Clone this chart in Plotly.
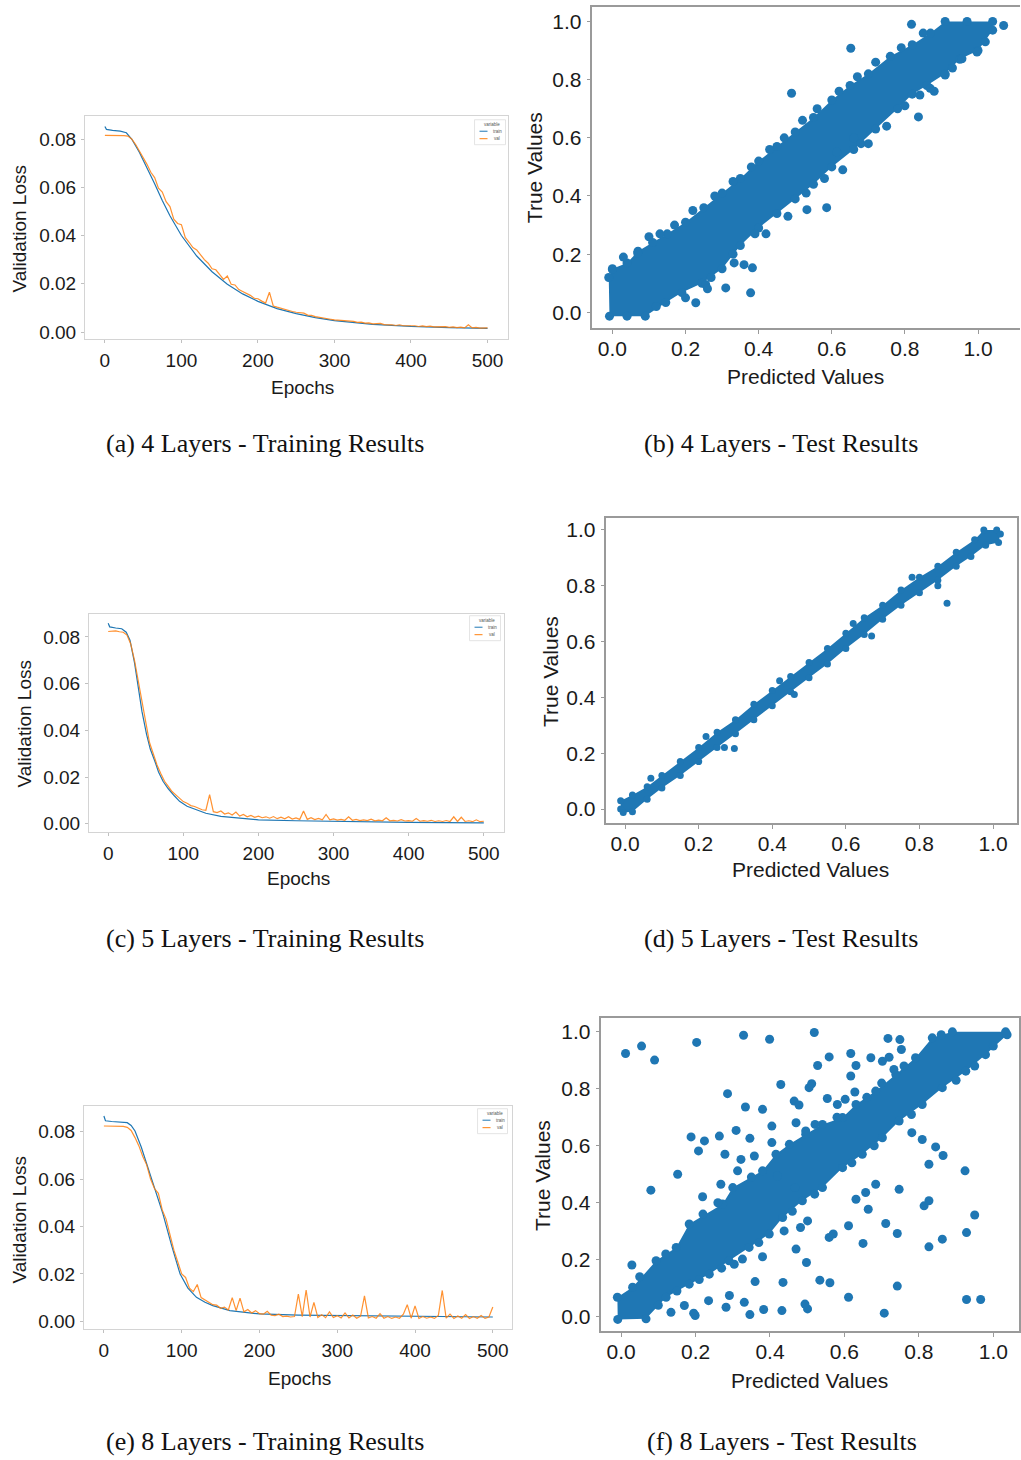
import plotly.graph_objects as go

# ======================= DATA =======================
# validation-loss samples every 5 epochs
val_epochs = list(range(0, 501, 5))

# (a) 4 layers
a_train_epochs = [0, 2, 10, 20, 28, 35, 45, 55, 65, 75, 85, 100, 120, 140, 160, 180, 200, 225, 250, 275,
                  300, 350, 400, 450, 500]
a_train_loss = [0.0852, 0.0840, 0.0836, 0.0833, 0.0826, 0.0800, 0.0745, 0.0683, 0.0615, 0.0545,
                0.0482, 0.0400, 0.0315, 0.0250, 0.0198, 0.0158, 0.0127, 0.0097, 0.0076, 0.0060,
                0.0047, 0.0032, 0.0023, 0.0018, 0.0015]
a_val_loss = [
    .0815, .0815, .0816, .0815, .0816, .0814, .0812, .0800, .0778, .0752,
    .0722, .0695, .0662, .0640, .0596, .0580, .0540, .0520, .0468, .0450,
    .0445, .0392, .0372, .0350, .0340, .0318, .0300, .0285, .0262, .0258,
    .0240, .0218, .0232, .0198, .0195, .0176, .0168, .0160, .0152, .0140,
    .0138, .0128, .0120, .0165, .0108, .0103, .0098, .0096, .0089, .0085,
    .0082, .0079, .0078, .0070, .0069, .0064, .0062, .0058, .0057, .0053,
    .0050, .0049, .0046, .0046, .0043, .0044, .0040, .0041, .0037, .0038,
    .0034, .0034, .0036, .0031, .0032, .0030, .0027, .0030, .0026, .0027,
    .0025, .0026, .0023, .0025, .0022, .0024, .0021, .0022, .0020, .0022,
    .0019, .0021, .0018, .0020, .0017, .0030, .0017, .0019, .0016, .0018,
    .0017]

# (c) 5 layers
c_train_epochs = [0, 2, 10, 18, 24, 29, 35, 40, 45, 51, 56, 62, 67, 73, 80, 88, 95, 105, 117, 130,
                  150, 175, 200, 250, 300, 400, 500]
c_train_loss = [0.0858, 0.0843, 0.0838, 0.0835, 0.0820, 0.0786, 0.0690, 0.0585, 0.0480, 0.0384,
                0.0320, 0.0269, 0.0222, 0.0182, 0.0150, 0.0120, 0.0096, 0.0075, 0.0060, 0.0045,
                0.0032, 0.0023, 0.0017, 0.0013, 0.0010, 0.0006, 0.0004]
c_val_loss = [
    .0823, .0823, .0826, .0822, .0820, .0808, .0770, .0700, .0610, .0512,
    .0420, .0348, .0300, .0252, .0215, .0182, .0160, .0138, .0124, .0110,
    .0095, .0088, .0078, .0074, .0066, .0060, .0058, .0125, .0052, .0048,
    .0055, .0042, .0047, .0038, .0050, .0033, .0040, .0030, .0036, .0028,
    .0033, .0026, .0030, .0024, .0031, .0022, .0028, .0021, .0030, .0020,
    .0025, .0019, .0055, .0019, .0026, .0018, .0023, .0017, .0040, .0017,
    .0021, .0016, .0019, .0015, .0030, .0015, .0019, .0014, .0017, .0014,
    .0020, .0013, .0016, .0013, .0026, .0013, .0015, .0012, .0018, .0012,
    .0014, .0011, .0023, .0011, .0014, .0011, .0015, .0010, .0013, .0010,
    .0014, .0010, .0030, .0010, .0028, .0010, .0013, .0009, .0017, .0009,
    .0011]

# (e) 8 layers
e_train_epochs = [0, 2, 10, 20, 30, 35, 40, 48, 55, 65, 76, 87, 98, 108, 119, 130, 140, 162, 200, 250,
                  300, 400, 500]
e_train_loss = [0.0866, 0.0846, 0.0843, 0.0842, 0.0838, 0.0826, 0.0803, 0.0735, 0.0662, 0.0560,
                0.0452, 0.0320, 0.0199, 0.0140, 0.0101, 0.0080, 0.0066, 0.0045, 0.0031, 0.0026,
                0.0024, 0.0021, 0.0018]
e_val_loss = [
    .0824, .0824, .0824, .0823, .0824, .0822, .0818, .0805, .0775, .0740,
    .0695, .0660, .0600, .0560, .0540, .0470, .0430, .0360, .0300, .0250,
    .0200, .0185, .0140, .0125, .0155, .0100, .0090, .0082, .0070, .0068,
    .0055, .0060, .0048, .0100, .0045, .0098, .0040, .0050, .0035, .0045,
    .0032, .0030, .0042, .0026, .0024, .0030, .0020, .0022, .0018, .0020,
    .0115, .0020, .0132, .0018, .0080, .0016, .0028, .0015, .0040, .0016,
    .0024, .0014, .0035, .0014, .0026, .0013, .0022, .0107, .0014, .0020,
    .0013, .0032, .0013, .0020, .0012, .0018, .0013, .0030, .0070, .0013,
    .0065, .0012, .0020, .0013, .0018, .0012, .0025, .0130, .0013, .0030,
    .0012, .0022, .0013, .0028, .0012, .0020, .0013, .0024, .0012, .0018,
    .0060]

# (b) 4 layers test: dense region outline (predicted, true) and isolated points
b_core = [(-0.01, 0.12), (0.0, 0.15), (0.04, 0.17), (0.07, 0.21), (0.11, 0.24), (0.15, 0.27),
          (0.20, 0.31), (0.25, 0.36), (0.30, 0.41), (0.35, 0.46), (0.40, 0.52), (0.45, 0.57),
          (0.50, 0.62), (0.55, 0.67), (0.60, 0.73), (0.65, 0.78), (0.70, 0.82), (0.76, 0.88),
          (0.82, 0.92), (0.87, 0.96), (0.91, 1.0), (0.97, 1.0), (1.04, 1.0), (1.04, 0.97),
          (1.0, 0.90), (0.95, 0.87), (0.91, 0.82), (0.86, 0.78), (0.82, 0.75), (0.78, 0.70),
          (0.72, 0.63), (0.66, 0.56), (0.60, 0.50), (0.55, 0.44), (0.50, 0.39), (0.45, 0.34),
          (0.40, 0.29), (0.35, 0.23), (0.30, 0.15), (0.245, 0.10), (0.19, 0.068), (0.146, 0.034),
          (0.09, -0.013), (0.04, -0.013), (-0.008, -0.013)]
b_points = [(0.49, 0.753), (0.652, 0.908), (0.818, 0.99), (1.07, 0.986), (0.997, 0.895),
            (0.956, 0.872), (0.91, 0.816), (0.869, 0.77), (0.841, 0.747), (0.837, 0.672),
            (0.069, 0.204), (0.0, 0.147), (0.228, 0.033), (0.255, 0.096), (0.26, 0.081),
            (0.31, 0.084), (0.378, 0.067), (0.383, 0.153), (0.36, 0.164), (0.333, 0.17),
            (0.532, 0.353), (0.586, 0.36), (0.614, 0.551), (0.66, 0.60), (0.10, 0.26),
            (0.17, 0.30), (0.28, 0.40), (0.38, 0.50), (0.47, 0.60), (0.56, 0.70), (0.72, 0.86),
            (0.79, 0.91), (0.42, 0.27), (0.48, 0.33), (0.63, 0.49), (0.70, 0.58), (0.75, 0.64),
            (0.88, 0.76), (0.03, 0.19), (0.13, 0.27), (0.22, 0.35), (0.33, 0.45), (0.43, 0.56),
            (0.52, 0.66), (0.62, 0.76), (0.67, 0.81), (0.85, 0.96), (0.12, 0.02), (0.20, 0.05),
            (0.27, 0.12), (0.33, 0.20), (0.39, 0.27), (0.53, 0.41), (0.58, 0.46), (0.68, 0.58),
            (0.80, 0.71), (0.93, 0.84), (1.02, 0.93)]

# (d) 5 layers test
d_core = [(-0.012, 0.0), (-0.012, 0.03), (0.02, 0.05), (0.06, 0.08), (0.10, 0.12), (0.15, 0.17),
          (0.20, 0.22), (0.25, 0.275), (0.30, 0.32), (0.35, 0.375), (0.40, 0.425), (0.45, 0.475),
          (0.50, 0.525), (0.55, 0.575), (0.60, 0.63), (0.65, 0.685), (0.70, 0.73), (0.75, 0.785),
          (0.80, 0.83), (0.85, 0.87), (0.90, 0.92), (0.95, 0.965), (0.975, 1.0), (1.01, 1.0),
          (1.02, 0.985), (1.015, 0.955), (0.98, 0.945), (0.94, 0.905), (0.90, 0.87), (0.85, 0.82),
          (0.80, 0.775), (0.75, 0.73), (0.70, 0.68), (0.65, 0.625), (0.60, 0.575), (0.55, 0.52),
          (0.50, 0.47), (0.45, 0.42), (0.40, 0.37), (0.35, 0.32), (0.30, 0.27), (0.25, 0.22),
          (0.20, 0.17), (0.15, 0.12), (0.10, 0.075), (0.06, 0.035), (0.02, -0.01), (-0.005, -0.012)]
d_points = [(0.875, 0.737), (0.297, 0.217), (0.07, 0.11), (0.22, 0.26), (0.42, 0.46), (0.62, 0.665),
            (0.78, 0.83), (0.27, 0.22), (0.46, 0.41), (0.67, 0.62), (0.85, 0.80)]

# (f) 8 layers test
f_core = [(-0.01, 0.068), (0.031, 0.103), (0.094, 0.196), (0.148, 0.243), (0.183, 0.325),
          (0.273, 0.395), (0.30, 0.453), (0.38, 0.512), (0.416, 0.57), (0.452, 0.605),
          (0.496, 0.64), (0.541, 0.675), (0.595, 0.699), (0.631, 0.745), (0.684, 0.792),
          (0.738, 0.85), (0.791, 0.909), (0.836, 0.979), (0.89, 1.0), (1.033, 1.0),
          (1.037, 0.99), (0.979, 0.92), (0.926, 0.862), (0.863, 0.804), (0.809, 0.745),
          (0.747, 0.687), (0.702, 0.628), (0.648, 0.57), (0.595, 0.523), (0.541, 0.453),
          (0.487, 0.407), (0.434, 0.348), (0.398, 0.29), (0.344, 0.243), (0.29, 0.196),
          (0.237, 0.149), (0.183, 0.114), (0.121, 0.068), (0.067, -0.008), (-0.009, -0.01)]
f_points = [
    (0.012, 0.924), (0.055, 0.950), (0.090, 0.901), (0.203, 0.963), (0.329, 0.988), (0.399, 0.974),
    (0.519, 0.998), (0.717, 0.977), (0.749, 0.973), (0.753, 0.938), (0.559, 0.912), (0.528, 0.882),
    (0.617, 0.924), (0.631, 0.882), (0.617, 0.845), (0.671, 0.909), (0.702, 0.897), (0.720, 0.911),
    (0.733, 0.868), (0.429, 0.815), (0.505, 0.804), (0.512, 0.818), (0.628, 0.789), (0.286, 0.783),
    (0.334, 0.736), (0.380, 0.728), (0.465, 0.757), (0.478, 0.743), (0.554, 0.766), (0.581, 0.745),
    (0.602, 0.763), (0.405, 0.669), (0.470, 0.681), (0.496, 0.652), (0.521, 0.675), (0.309, 0.654),
    (0.264, 0.634), (0.188, 0.631), (0.224, 0.617), (0.208, 0.582), (0.279, 0.570), (0.346, 0.626),
    (0.322, 0.552), (0.313, 0.512), (0.152, 0.500), (0.080, 0.444), (0.219, 0.421), (0.268, 0.465),
    (0.358, 0.564), (0.405, 0.611), (0.924, 0.512), (0.827, 0.535), (0.845, 0.596), (0.865, 0.566),
    (0.809, 0.622), (0.781, 0.646), (0.747, 0.447), (0.814, 0.389), (0.827, 0.407), (0.950, 0.357),
    (0.928, 0.295), (0.863, 0.272), (0.827, 0.245), (0.742, 0.292), (0.711, 0.327), (0.650, 0.257),
    (0.611, 0.319), (0.664, 0.377), (0.657, 0.436), (0.684, 0.465), (0.631, 0.412), (0.559, 0.278),
    (0.570, 0.290), (0.501, 0.336), (0.482, 0.313), (0.438, 0.301), (0.470, 0.237), (0.498, 0.190),
    (0.742, 0.107), (0.611, 0.068), (0.534, 0.128), (0.561, 0.119), (0.435, 0.120), (0.707, 0.012),
    (0.928, 0.060), (0.966, 0.060), (0.501, 0.027), (0.494, 0.044), (0.432, 0.021), (0.383, 0.025),
    (0.346, 0.007), (0.331, 0.050), (0.291, 0.074), (0.282, 0.033), (0.235, 0.056), (0.199, 0.004),
    (0.195, 0.012), (0.134, 0.015), (0.170, 0.039), (0.029, 0.181), (0.304, 0.184), (0.360, 0.123),
    (0.326, 0.202), (0.380, 0.210), (0.420, 0.494), (0.467, 0.453), (0.05, 0.14), (0.12, 0.22),
    (0.22, 0.36), (0.26, 0.40), (0.35, 0.49), (0.58, 0.70), (0.66, 0.77), (0.70, 0.82), (0.76, 0.88),
    (0.86, 0.99), (0.10, 0.04), (0.15, 0.09), (0.21, 0.13), (0.27, 0.17), (0.37, 0.26), (0.46, 0.37),
    (0.52, 0.43), (0.62, 0.54), (0.68, 0.60), (0.78, 0.71), (0.90, 0.83), (0.95, 0.88), (1.0, 0.95)]

loss_ticks = [0.0, 0.02, 0.04, 0.06, 0.08]
loss_tick_text = ['0.00', '0.02', '0.04', '0.06', '0.08']
epoch_ticks = [0, 100, 200, 300, 400, 500]
unit_ticks = [0.0, 0.2, 0.4, 0.6, 0.8, 1.0]
unit_tick_text = ['0.0', '0.2', '0.4', '0.6', '0.8', '1.0']

captions = ['(a) 4 Layers - Training Results', '(b) 4 Layers - Test Results',
            '(c) 5 Layers - Training Results', '(d) 5 Layers - Test Results',
            '(e) 8 Layers - Training Results', '(f) 8 Layers - Test Results']

# ======================= LAYOUT HELPERS =======================
W, H = 1021, 1460
BLUE = '#1f77b4'
ORANGE = '#ff7f0e'
SANS = 'Liberation Sans, Arial, sans-serif'
SERIF = 'Liberation Serif, Times New Roman, serif'


def px(x):
    return x / W


def py(y):
    return 1 - y / H


def rng(lo_px, hi_px, v0, p0, v1, p1):
    s = (p1 - p0) / (v1 - v0)
    return [v0 + (lo_px - p0) / s, v0 + (hi_px - p0) / s]


fig = go.Figure()
layout = dict(width=W, height=H, margin=dict(l=0, r=0, t=0, b=0), autosize=False,
              paper_bgcolor='white', plot_bgcolor='white', showlegend=False)
annotations = []
shapes = []


def keys(i):
    s = '' if i == 1 else str(i)
    return 'x' + s, 'y' + s, 'xaxis' + s, 'yaxis' + s


def text(x, y, s, size, family=SANS, angle=0, color='#1a1a1a', xanchor='center'):
    annotations.append(dict(x=px(x), y=py(y), xref='paper', yref='paper', text=s, showarrow=False,
                            textangle=angle, xanchor=xanchor, yanchor='middle',
                            font=dict(size=size, family=family, color=color)))


# ---------------- line (training) panels ----------------
line_panels = [
    dict(i=1, frame=(85, 116, 508, 340), xcal=(105, 488), ycal=(332.7, 139.3),
         te=a_train_epochs, tl=a_train_loss, vl=a_val_loss,
         ylab=(20, 229), xlab=(303, 388), leg=(475, 120, 506, 145)),
    dict(i=3, frame=(89, 615, 504, 834), xcal=(108.3, 484.3), ycal=(825.5, 638.2),
         te=c_train_epochs, tl=c_train_loss, vl=c_val_loss,
         ylab=(25, 725), xlab=(299, 880), leg=(470, 617, 501, 642)),
    dict(i=5, frame=(84, 1108, 513, 1332), xcal=(104, 493.3), ycal=(1324, 1134),
         te=e_train_epochs, tl=e_train_loss, vl=e_val_loss,
         ylab=(20, 1222), xlab=(300, 1381), leg=(478, 1111, 508, 1136)),
]

for p in line_panels:
    xk, yk, xak, yak = keys(p['i'])
    x0, y0, x1, y1 = p['frame']
    fig.add_trace(go.Scatter(x=p['te'], y=p['tl'], xaxis=xk, yaxis=yk, mode='lines',
                             line=dict(color=BLUE, width=1.2), name='train'))
    fig.add_trace(go.Scatter(x=val_epochs, y=p['vl'], xaxis=xk, yaxis=yk, mode='lines',
                             line=dict(color=ORANGE, width=1.2), opacity=0.85, name='val'))
    common = dict(showline=True, mirror=True, linecolor='#d4d4d4', linewidth=1, showgrid=False,
                  zeroline=False, ticks='outside', ticklen=3, tickcolor='#c0c0c0',
                  tickfont=dict(size=19, family=SANS, color='#1a1a1a'))
    layout[xak] = dict(domain=[px(x0), px(x1)], anchor=yk,
                       range=rng(x0, x1, 0, p['xcal'][0], 500, p['xcal'][1]),
                       tickvals=epoch_ticks, ticklabelstandoff=1, **common)
    layout[yak] = dict(domain=[py(y1), py(y0)], anchor=xk,
                       range=rng(y1, y0, 0, p['ycal'][0], 0.08, p['ycal'][1]),
                       tickvals=loss_ticks, ticktext=loss_tick_text, ticklabelstandoff=1, **common)
    text(p['ylab'][0], p['ylab'][1], 'Validation Loss', 19, angle=-90)
    text(p['xlab'][0], p['xlab'][1], 'Epochs', 19)
    # tiny legend
    lx0, ly0, lx1, ly1 = p['leg']
    shapes.append(dict(type='rect', xref='paper', yref='paper', x0=px(lx0), x1=px(lx1),
                       y0=py(ly1), y1=py(ly0), line=dict(color='#dddddd', width=0.8),
                       fillcolor='white'))
    shapes.append(dict(type='line', xref='paper', yref='paper', x0=px(lx0 + 5), x1=px(lx0 + 13),
                       y0=py(ly0 + 11.5), y1=py(ly0 + 11.5), line=dict(color=BLUE, width=1)))
    shapes.append(dict(type='line', xref='paper', yref='paper', x0=px(lx0 + 5), x1=px(lx0 + 13),
                       y0=py(ly0 + 19), y1=py(ly0 + 19), line=dict(color=ORANGE, width=1)))
    text(lx0 + 17, ly0 + 4.5, 'variable', 4.5, color='#555555')
    text(lx0 + 16, ly0 + 11.5, 'train', 4.5, color='#555555', xanchor='left')
    text(lx0 + 17, ly0 + 19, 'val', 4.5, color='#555555', xanchor='left')

# ---------------- scatter (test) panels ----------------
scatter_panels = [
    dict(i=2, frame=(593, 7, 1021, 329), xcal=(613, 979), ycal=(313, 21.5), core=b_core,
         pts=b_points, size=9, right=False, ylab=(535, 168), xlab=(806, 377)),
    dict(i=4, frame=(607, 519, 1018, 824.5), xcal=(625.7, 994), ycal=(810.7, 531), core=d_core,
         pts=d_points, size=7, right=True, ylab=(551, 673), xlab=(811, 871)),
    dict(i=6, frame=(602, 1020, 1020, 1334), xcal=(621.7, 994.3), ycal=(1319.3, 1034), core=f_core,
         pts=f_points, size=9, right=True, ylab=(543, 1178), xlab=(810, 1383)),
]

for p in scatter_panels:
    xk, yk, xak, yak = keys(p['i'])
    x0, y0, x1, y1 = p['frame']
    cx = [c[0] for c in p['core']]
    cy = [c[1] for c in p['core']]
    fig.add_trace(go.Scatter(x=cx, y=cy, xaxis=xk, yaxis=yk, mode='markers', fill='toself',
                             fillcolor=BLUE, line=dict(width=0, color=BLUE),
                             marker=dict(size=p['size'], color=BLUE, line=dict(width=0))))
    fig.add_trace(go.Scatter(x=[q[0] for q in p['pts']], y=[q[1] for q in p['pts']], xaxis=xk,
                             yaxis=yk, mode='markers',
                             marker=dict(size=p['size'], color=BLUE, line=dict(width=0))))
    common = dict(showline=True, linecolor='#9a9a9a', linewidth=1.5, showgrid=False,
                  zeroline=False, ticks='outside', ticklen=4, tickcolor='#9a9a9a',
                  tickfont=dict(size=21, family=SANS, color='#1a1a1a'))
    layout[xak] = dict(domain=[px(x0), px(x1)], anchor=yk, mirror=True,
                       range=rng(x0, x1, 0, p['xcal'][0], 1.0, p['xcal'][1]),
                       tickvals=unit_ticks, ticktext=unit_tick_text, ticklabelstandoff=-3, **common)
    layout[yak] = dict(domain=[py(y1), py(y0)], anchor=xk, mirror=p['right'],
                       range=rng(y1, y0, 0, p['ycal'][0], 1.0, p['ycal'][1]),
                       tickvals=unit_ticks, ticktext=unit_tick_text, ticklabelstandoff=1, **common)
    text(p['ylab'][0], p['ylab'][1], 'True Values', 21, angle=-90)
    text(p['xlab'][0], p['xlab'][1], 'Predicted Values', 21)

# ---------------- captions ----------------
cap_pos = [(265, 444), (782, 444), (265, 940), (782, 940), (265, 1444), (783, 1444)]
for (cx_, cy_), cap in zip(cap_pos, captions):
    text(cx_, cy_, cap, 26, family=SERIF, color='#111111')

layout['annotations'] = annotations
layout['shapes'] = shapes
fig.update_layout(**layout)
fig.write_html('out.html')
